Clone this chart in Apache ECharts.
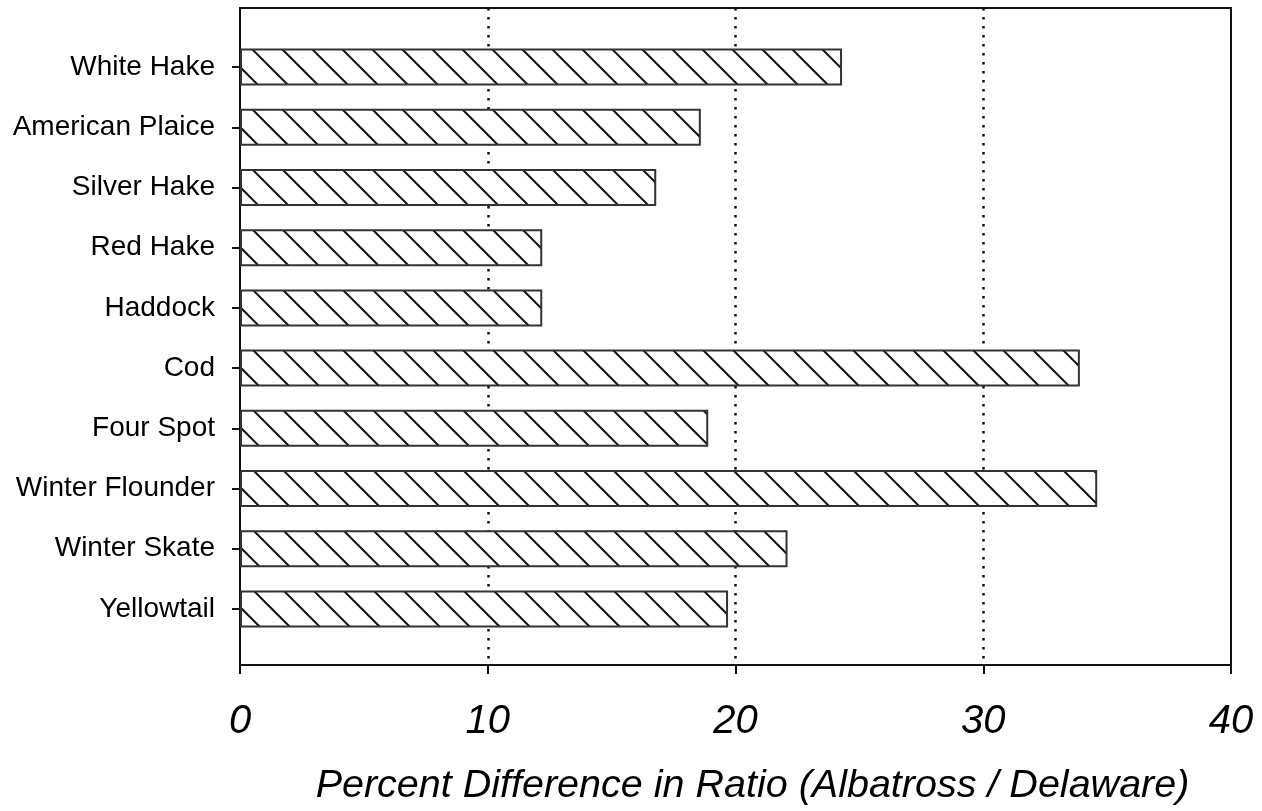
<!DOCTYPE html>
<html lang="en">

<head>
    <meta charset="utf-8" />
    <title>Percent Difference in Ratio</title>
    <script src="https://cdn.jsdelivr.net/npm/echarts@6/dist/echarts.min.js"></script>
    <style>
        html, body { margin: 0; padding: 0; background: #fff; }
        #main { width: 1262px; height: 811px; }
    </style>
</head>

<body>
    <div id="main"></div>
    <script>
        // species, top to bottom
        var species = ['White Hake', 'American Plaice', 'Silver Hake', 'Red Hake', 'Haddock',
            'Cod', 'Four Spot', 'Winter Flounder', 'Winter Skate', 'Yellowtail'];
        // percent difference (Albatross / Delaware)
        var pctDiff = [24.3, 18.6, 16.8, 12.2, 12.2, 33.9, 18.9, 34.6, 22.1, 19.7];
        var xTicks = [0, 10, 20, 30, 40];

        var FONT = '"Liberation Sans", Arial, sans-serif';

        // hatch tile: white with "\" lines, 30px apart
        function hatch() {
            var s = 30, off = 23;
            var c = document.createElement('canvas');
            c.width = s; c.height = s;
            var g = c.getContext('2d');
            g.fillStyle = '#fff';
            g.fillRect(0, 0, s, s);
            g.strokeStyle = '#111';
            g.lineWidth = 2;
            for (var k = -1; k <= 1; k++) {
                g.beginPath();
                g.moveTo(off + k * s - 10, -10);
                g.lineTo(off + k * s + s + 10, s + 10);
                g.stroke();
            }
            return c;
        }

        var chart = echarts.init(document.getElementById('main'));
        var option = {
            animation: false,
            backgroundColor: '#fff',
            grid: [
                // frame + value axis
                { left: 240, right: 31, top: 8, bottom: 143, show: true, borderColor: '#111', borderWidth: 2, backgroundColor: 'transparent' },
                // bars
                { left: 240, right: 31, top: 37, bottom: 172 }
            ],
            xAxis: [
                {
                    gridIndex: 0, type: 'value', min: xTicks[0], max: xTicks[xTicks.length - 1], interval: 10,
                    axisLine: { show: true, lineStyle: { color: '#111', width: 2 } },
                    axisTick: { show: true, length: 9, lineStyle: { color: '#111', width: 2 } },
                    axisLabel: { fontFamily: FONT, fontStyle: 'italic', fontSize: 40, color: '#000', margin: 37 },
                    splitLine: {
                        show: true, showMinLine: false, showMaxLine: false,
                        lineStyle: { color: '#111', width: 2.5, type: [2.5, 6.5] }
                    },
                    name: 'Percent Difference in Ratio (Albatross / Delaware)',
                    nameLocation: 'middle', nameGap: 101,
                    nameTextStyle: { fontFamily: FONT, fontStyle: 'italic', fontSize: 39.5, color: '#000', padding: [0, 0, 0, 34] }
                },
                {
                    gridIndex: 1, type: 'value', min: xTicks[0], max: xTicks[xTicks.length - 1], show: false
                }
            ],
            yAxis: [
                {
                    gridIndex: 0, type: 'value', min: 0, max: 1,
                    axisLine: { show: true, lineStyle: { color: '#111', width: 2 } },
                    axisTick: { show: false }, axisLabel: { show: false }, splitLine: { show: false }
                },
                {
                    gridIndex: 1, type: 'category', data: species, inverse: true,
                    axisLine: { show: false },
                    axisTick: { show: true, alignWithLabel: true, length: 8, lineStyle: { color: '#111', width: 2 } },
                    axisLabel: { fontFamily: FONT, fontSize: 28, color: '#000', margin: 25 },
                    splitLine: { show: false }
                }
            ],
            series: [
                {
                    type: 'bar',
                    xAxisIndex: 1, yAxisIndex: 1,
                    data: pctDiff,
                    barWidth: 37,
                    itemStyle: {
                        color: { image: hatch(), repeat: 'repeat' },
                        borderColor: '#333',
                        borderWidth: 2
                    }
                }
            ]
        };
        chart.setOption(option);
    </script>
</body>

</html>
